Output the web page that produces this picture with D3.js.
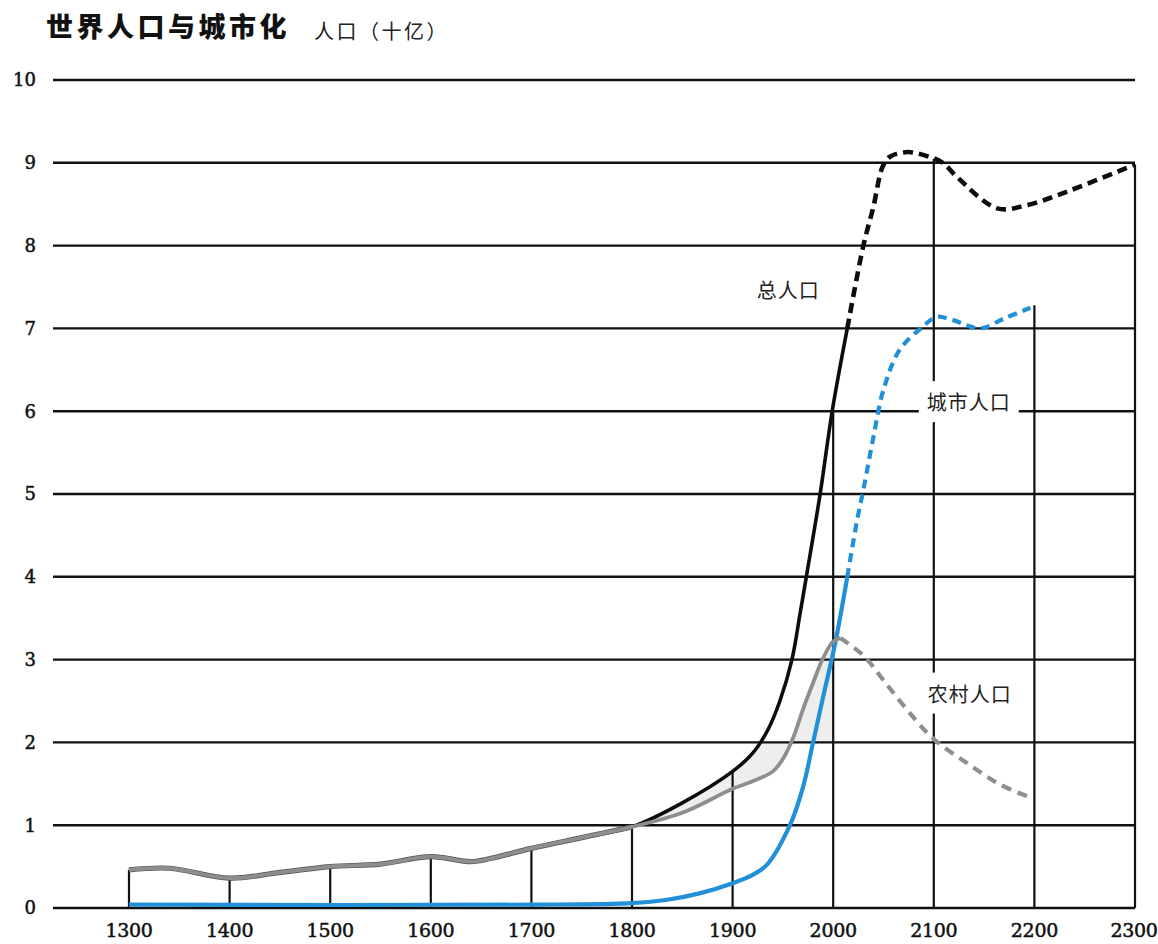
<!DOCTYPE html>
<html><head><meta charset="utf-8">
<script src="https://cdn.jsdelivr.net/npm/d3@7"></script>
<style>
html,body{margin:0;padding:0;background:#fff;}
svg{display:block;}
</style></head>
<body>
<script>
// ---------- data ----------
const titleText = "世界人口与城市化";
const unitText = "人口（十亿）";
const xTicks = [1300,1400,1500,1600,1700,1800,1900,2000,2100,2200,2300];
const yTicks = [0,1,2,3,4,5,6,7,8,9,10];

const totalYears = [1300,1340,1400,1450,1500,1550,1600,1640,1660,1700,1750,1800,1850,1900,1920,1935,1947,1959,1967,1974,1987,1999,2014,2030,2040,2049,2056,2074,2096,2109,2123,2163,2193,2232,2300];
const totalVals  = [0.46,0.48,0.36,0.43,0.50,0.53,0.62,0.56,0.60,0.72,0.85,0.98,1.27,1.65,1.87,2.15,2.50,3.00,3.55,4.05,5.00,6.00,7.00,8.00,8.47,8.95,9.07,9.13,9.07,9.00,8.83,8.45,8.49,8.65,8.98];
const totalProjFrom = 2014;

const ruralYears = [1300,1340,1400,1450,1500,1550,1600,1640,1660,1700,1750,1800,1850,1900,1920,1940,1950,1960,1970,1980,1990,2000,2007,2030,2050,2073,2099,2133,2166,2195];
const ruralVals  = [0.46,0.48,0.36,0.43,0.50,0.53,0.62,0.56,0.60,0.72,0.85,0.98,1.15,1.44,1.53,1.65,1.80,2.05,2.40,2.72,3.02,3.22,3.26,3.05,2.75,2.40,2.05,1.75,1.49,1.34];
const ruralProjFrom = 2007;

const urbanYears = [1300,1700,1800,1835,1868,1900,1920,1934,1957,1970,1980,1990,2002,2014,2024,2030,2040,2050,2066,2089,2103,2119,2146,2170,2196];
const urbanVals  = [0.04,0.04,0.06,0.10,0.18,0.30,0.40,0.52,1.00,1.46,2.00,2.55,3.20,4.00,4.70,5.05,5.69,6.26,6.74,7.02,7.14,7.10,7.00,7.12,7.25];
const urbanProjFrom = 2014;

const guideYears = [1300,1400,1500,1600,1700,1800,1900,2000,2100,2200,2300];
const guideTops  = [0.46,0.36,0.50,0.62,0.72,0.98,1.65,6.00,9.05,7.28,8.98];

const shadeFrom = 1800, shadeTo = 2000, shadeLevel = 2;

const seriesLabels = [
  {text:"总人口",   year:1924, value:7.46},
  {text:"城市人口", year:2093, value:6.10},
  {text:"农村人口", year:2094, value:2.58}
];

// ---------- layout ----------
const W = 1158, H = 944;
const svg = d3.select("body").append("svg").attr("width",W).attr("height",H);
const x = d3.scaleLinear().domain([1300,2300]).range([129,1135]);
const y = d3.scaleLinear().domain([0,10]).range([908,80]);
const gridLeft = 53;
const numFont = "'DejaVu Serif','Liberation Serif',serif";
const cjkFont = "'Noto Sans CJK SC','Noto Sans CJK JP',sans-serif";

const zip = (ys, vs) => ys.map((yr,i)=>({year:yr, v:vs[i]}));
const total = zip(totalYears,totalVals);
const rural = zip(ruralYears,ruralVals);
const urban = zip(urbanYears,urbanVals);
const curve = d3.curveCatmullRom.alpha(0.5);

// ---------- shading (between rural and min(total,2), 1800-2000) ----------
const defs = svg.append("defs");
defs.append("clipPath").attr("id","belowLevel").append("rect")
  .attr("x",x(shadeFrom)).attr("width",x(shadeTo)-x(shadeFrom))
  .attr("y",y(shadeLevel)).attr("height",y(0)-y(shadeLevel));
defs.append("clipPath").attr("id","aboveLevel").append("rect")
  .attr("x",x(shadeFrom)).attr("width",x(shadeTo)-x(shadeFrom))
  .attr("y",y(10)).attr("height",y(shadeLevel)-y(10));
const under = d3.area().x(d=>x(d.year)).y0(y(0)).y1(d=>y(d.v)).curve(curve);
const shade = "#eeeeec";
svg.append("path").attr("d",under(total)).attr("fill",shade).attr("clip-path","url(#belowLevel)");
svg.append("path").attr("d",under(rural)).attr("fill","#fff").attr("clip-path","url(#belowLevel)");
svg.append("path").attr("d",under(rural)).attr("fill",shade).attr("clip-path","url(#aboveLevel)");

// ---------- gridlines ----------
svg.append("g").selectAll("line").data(yTicks).join("line")
  .attr("x1",gridLeft).attr("x2",x(2300))
  .attr("y1",d=>y(d)).attr("y2",d=>y(d))
  .attr("stroke","#111").attr("stroke-width",2.4);

// vertical guides
svg.append("g").selectAll("line").data(guideYears).join("line")
  .attr("x1",d=>x(d)).attr("x2",d=>x(d))
  .attr("y1",y(0)).attr("y2",(d,i)=>y(guideTops[i]))
  .attr("stroke","#111").attr("stroke-width",2.2);

// ---------- axis labels ----------
svg.append("g").selectAll("text").data(yTicks).join("text")
  .attr("x",36).attr("y",d=>y(d)).attr("dy","0.36em")
  .attr("text-anchor","end")
  .attr("font-family",numFont).attr("font-size",18).attr("fill","#111")
  .attr("stroke","#111").attr("stroke-width",0.5)
  .text(d=>d);
svg.append("g").selectAll("text").data(xTicks).join("text")
  .attr("x",d=>Math.min(x(d), W-24)).attr("y",937)
  .attr("text-anchor","middle")
  .attr("font-family",numFont).attr("font-size",19).attr("fill","#111")
  .attr("stroke","#111").attr("stroke-width",0.5)
  .attr("letter-spacing",-0.3)
  .text(d=>d);

// ---------- series lines ----------
const line = d3.line().x(d=>x(d.year)).y(d=>y(d.v)).curve(curve);
function drawSeries(data, projFrom, color, width, dash, dashWidth){
  const solid = data.filter(d=>d.year<=projFrom);
  const proj  = data.filter(d=>d.year>=projFrom);
  svg.append("path").attr("d",line(proj)).attr("fill","none")
    .attr("stroke",color).attr("stroke-width",dashWidth).attr("stroke-dasharray",dash);
  svg.append("path").attr("d",line(solid)).attr("fill","none")
    .attr("stroke",color).attr("stroke-width",width).attr("stroke-linecap","butt");
}
drawSeries(urban, urbanProjFrom, "#2190d8", 4.2, "9,6", 4.2);
drawSeries(total, totalProjFrom, "#0d0d0d", 3.6, "10,6", 4.6);
// rural: gray with darker rim in early period
svg.append("path").attr("d",line(rural.filter(d=>d.year<=1800))).attr("fill","none")
  .attr("stroke","#555").attr("stroke-width",5.2);
drawSeries(rural, ruralProjFrom, "#8e8e8e", 3.8, "10,7", 4.2);

// ---------- labels ----------
seriesLabels.forEach(l=>{
  const g = svg.append("g");
  const t = g.append("text").attr("x",x(l.year)).attr("y",y(l.value)).attr("dy","0.36em")
    .attr("font-family",cjkFont).attr("font-size",20).attr("fill","#222")
    .attr("letter-spacing",1).text(l.text);
  const b = t.node().getBBox();
  g.insert("rect","text").attr("x",b.x-8).attr("y",b.y-6).attr("width",b.width+16).attr("height",b.height+12)
    .attr("fill","#fff");
});

// ---------- title ----------
svg.append("text").attr("x",46).attr("y",37)
  .attr("font-family",cjkFont).attr("font-weight",900).attr("font-size",27)
  .attr("letter-spacing",3.5).attr("fill","#111").text(titleText);
svg.append("text").attr("x",314).attr("y",39)
  .attr("font-family",cjkFont).attr("font-size",20)
  .attr("letter-spacing",2.5).attr("fill","#222").text(unitText);
</script>
</body></html>
